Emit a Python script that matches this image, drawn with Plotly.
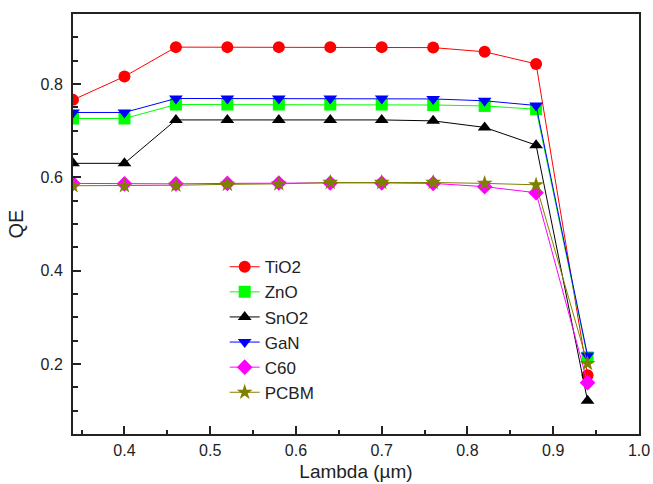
import plotly.graph_objects as go

# Wavelength samples (µm)
wavelength = [0.34, 0.40, 0.46, 0.52, 0.58, 0.64, 0.70, 0.76, 0.82, 0.88, 0.94]

# Quantum efficiency for each electron transport material
qe_tio2 = [0.766, 0.816, 0.879, 0.879, 0.879, 0.879, 0.879, 0.878, 0.869, 0.843, 0.176]
qe_zno = [0.726, 0.726, 0.756, 0.756, 0.756, 0.756, 0.756, 0.755, 0.753, 0.746, 0.214]
qe_sno2 = [0.630, 0.630, 0.723, 0.723, 0.723, 0.723, 0.723, 0.721, 0.707, 0.669, 0.121]
qe_gan = [0.739, 0.739, 0.769, 0.769, 0.769, 0.769, 0.769, 0.768, 0.764, 0.754, 0.218]
qe_c60 = [0.587, 0.586, 0.586, 0.587, 0.588, 0.588, 0.588, 0.587, 0.580, 0.567, 0.160]
qe_pcbm = [0.582, 0.582, 0.583, 0.585, 0.586, 0.589, 0.589, 0.589, 0.587, 0.584, 0.201]

series = [
    ("TiO2", qe_tio2, "#ff0000", "circle"),
    ("ZnO", qe_zno, "#00ff00", "square"),
    ("SnO2", qe_sno2, "#000000", "triangle-up"),
    ("GaN", qe_gan, "#0000ff", "triangle-down"),
    ("C60", qe_c60, "#ff00ff", "diamond"),
    ("PCBM", qe_pcbm, "#808000", "star"),
]

FONT = "Liberation Sans, Arial, sans-serif"
INK = "#222222"

fig = go.Figure()
for name, values, color, symbol in series:
    fig.add_trace(go.Scatter(
        x=wavelength, y=values, name=name, mode="lines+markers",
        line=dict(color=color, width=1),
        marker=dict(color=color, symbol=symbol, size=12, line=dict(width=0)),
    ))

axis_common = dict(
    showline=True, linecolor=INK, linewidth=2, mirror=True,
    ticks="inside", tickcolor=INK, tickwidth=1.5, ticklen=8,
    showgrid=False, zeroline=False, tickformat=".1f", automargin=False,
    tickfont=dict(family=FONT, size=16, color=INK),
)

fig.update_xaxes(
    range=[0.34, 1.0], tick0=0, dtick=0.1, ticklabelstandoff=1,
    minor=dict(ticks="inside", dtick=0.05, ticklen=4, tickcolor=INK, tickwidth=1.5),
    title=dict(text="Lambda (\u00b5m)", font=dict(family=FONT, size=19, color=INK), standoff=6),
    **axis_common,
)
fig.update_yaxes(
    range=[0.05, 0.95], tick0=0, dtick=0.2, ticklabelstandoff=5,
    minor=dict(ticks="inside", dtick=0.05, ticklen=5, tickcolor=INK, tickwidth=1.5),
    title=dict(text="QE", font=dict(family=FONT, size=20, color=INK), standoff=12),
    **axis_common,
)

fig.update_layout(
    width=653, height=484,
    margin=dict(l=73, r=14, t=14, b=50),
    paper_bgcolor="white", plot_bgcolor="white",
    legend=dict(
        x=0.268, y=0.44, xanchor="left", yanchor="top",
        bgcolor="rgba(0,0,0,0)",
        font=dict(family=FONT, size=17, color=INK),
        tracegroupgap=0,
    ),
)

fig.write_html("out.html")
